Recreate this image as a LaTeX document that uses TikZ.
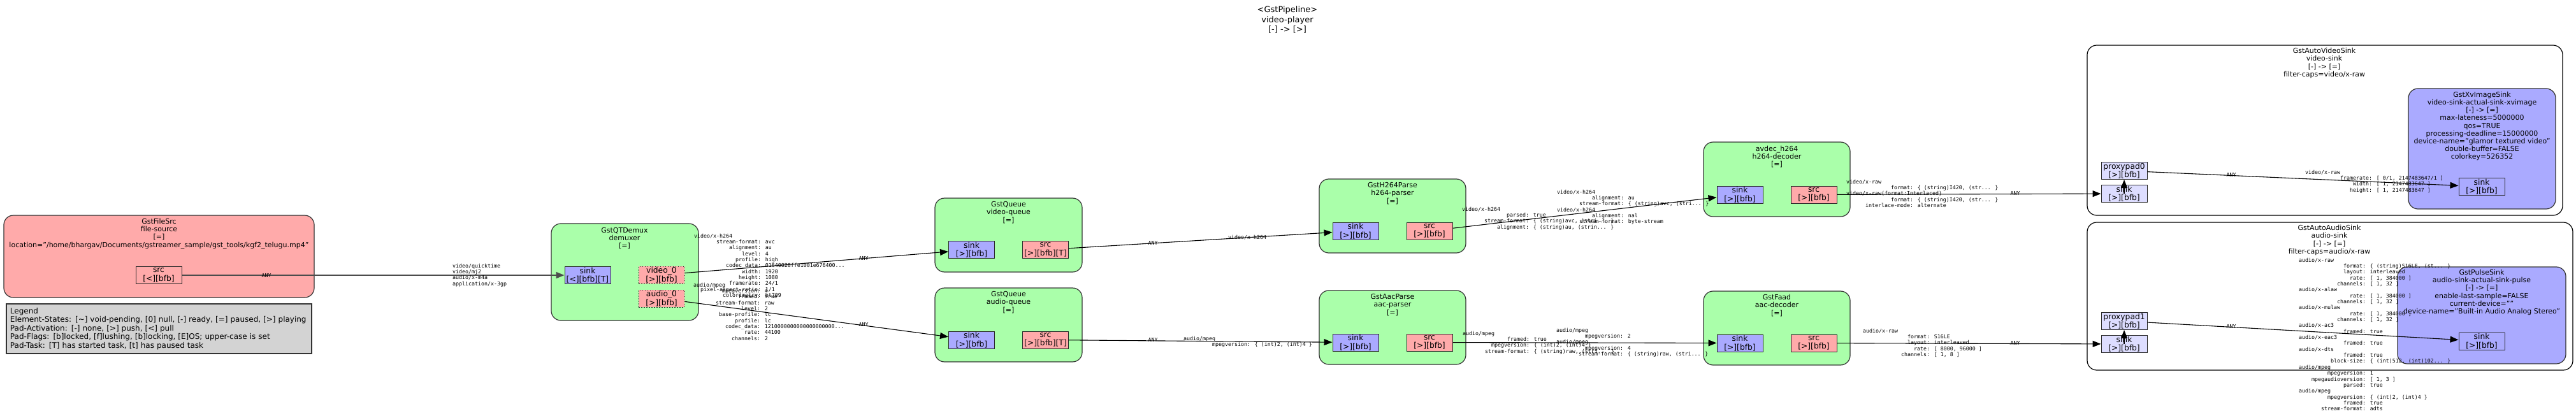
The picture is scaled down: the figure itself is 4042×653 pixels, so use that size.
\documentclass[tikz,border=0pt]{standalone}
\usepackage{fontspec}
\setmainfont{DejaVu Sans}
\newfontfamily\capsf{DejaVu Sans Mono}
\usetikzlibrary{arrows.meta}
\definecolor{elemgreen}{HTML}{AAFFAA}
\definecolor{srcred}{HTML}{FFAAAA}
\definecolor{sinkblue}{HTML}{AAAAFF}
\definecolor{proxyblue}{HTML}{DDDDFF}
\definecolor{legendgray}{HTML}{D3D3D3}
\newlength\capsw
\newcommand\capsfont{\capsf\fontsize{8.3}{9.35}\selectfont}
\newcommand\elemfont{\fontsize{11}{12.2}\selectfont}
\newcommand\padfont{\fontsize{12.3}{13.3}\selectfont}
\newcommand\pipefont{\fontsize{13}{15.5}\selectfont}
\newcommand\legfont{\fontsize{12}{13.5}\selectfont}
\newcommand\cf[2]{\makebox[20\capsw][r]{#1}: #2}
\AtBeginDocument{\settowidth\capsw{\capsfont 0}}
\tikzset{
  elembox/.style={draw=black!80, line width=1.2pt, fill=elemgreen, rounded corners=15pt, inner sep=0pt},
  binbox/.style={draw=black, line width=1.2pt, fill=white, rounded corners=15pt, inner sep=0pt},
  padbox/.style={draw=black!85, line width=1pt, inner sep=0pt, minimum width=72pt, minimum height=27pt, font=\padfont, align=center},
  sinkpad/.style={padbox, fill=sinkblue},
  srcpad/.style={padbox, fill=srcred},
  sometimespad/.style={padbox, fill=srcred, dash pattern=on 1.5pt off 2.5pt},
  proxypad/.style={padbox, fill=proxyblue},
  elemtitle/.style={font=\elemfont, align=center, inner sep=0pt},
  capslbl/.style={font=\capsfont, align=left, anchor=north west, inner sep=0pt},
  anylbl/.style={font=\capsfont, inner sep=0pt},
  linkarrow/.style={line width=1.1pt, -{Triangle[length=13pt,width=10pt]}}
}
\begin{document}
\begin{tikzpicture}[x=1pt,y=-1pt]
\useasboundingbox (0,0) rectangle (4042,653);

% pipeline title
\node[font=\pipefont, align=center, inner sep=0pt] (pipetitle) at (2020,31) {<GstPipeline>\\video-player\\{}[-] -> [>]};

% file source
\node[elembox, fill=srcred, minimum width=487pt, minimum height=129pt] (filesrc) at (249.5,402.5) {};
\node[elemtitle] (filesrctitle) at (249.5,367) {GstFileSrc\\file-source\\{}[=]\\location="/home/bhargav/Documents/gstreamer\_sample/gst\_tools/kgf2\_telugu.mp4"};
\node[srcpad] (fssrc) at (249,432) {src\\{}[<][bfb]};

% legend
\node[draw=black!80, line width=1.2pt, fill=legendgray, minimum width=479pt, minimum height=78pt, inner xsep=6pt, text width=467pt, align=left, font=\legfont] (legend) at (249.5,516) {Legend\\Element-States: [\textasciitilde] void-pending, [0] null, [-] ready, [=] paused, [>] playing\\Pad-Activation: [-] none, [>] push, [<] pull\\Pad-Flags: [b]locked, [f]lushing, [b]locking, [E]OS; upper-case is set\\Pad-Task: [T] has started task, [t] has paused task};

% demuxer
\node[elembox, minimum width=231pt, minimum height=152pt] (demux) at (980.5,427) {};
\node[elemtitle] (demuxtitle) at (980,374) {GstQTDemux\\demuxer\\{}[=]};
\node[sinkpad] (dmsink) at (922,432) {sink\\{}[<][bfb][T]};
\node[sometimespad] (dmvideo) at (1038,431.5) {video\_0\\{}[>][bfb]};
\node[sometimespad] (dmaudio) at (1038,468.5) {audio\_0\\{}[>][bfb]};

% queues
\node[elembox, minimum width=231pt, minimum height=116pt] (vqueue) at (1582.5,369) {};
\node[elemtitle] (vqueuetitle) at (1582.5,333.5) {GstQueue\\video-queue\\{}[=]};
\node[sinkpad] (vqsink) at (1524.5,392) {sink\\{}[>][bfb]};
\node[srcpad] (vqsrc) at (1640.5,392) {src\\{}[>][bfb][T]};

\node[elembox, minimum width=231pt, minimum height=116pt] (aqueue) at (1582.5,510) {};
\node[elemtitle] (aqueuetitle) at (1582.5,474.5) {GstQueue\\audio-queue\\{}[=]};
\node[sinkpad] (aqsink) at (1524.5,533.5) {sink\\{}[>][bfb]};
\node[srcpad] (aqsrc) at (1640.5,533.5) {src\\{}[>][bfb][T]};

% parsers
\node[elembox, minimum width=230pt, minimum height=116pt] (hparse) at (2185,339) {};
\node[elemtitle] (hparsetitle) at (2185,303.5) {GstH264Parse\\h264-parser\\{}[=]};
\node[sinkpad] (hpsink) at (2127,362.5) {sink\\{}[>][bfb]};
\node[srcpad] (hpsrc) at (2243,362.5) {src\\{}[>][bfb]};

\node[elembox, minimum width=230pt, minimum height=116pt] (aparse) at (2185,514) {};
\node[elemtitle] (aparsetitle) at (2185,478.5) {GstAacParse\\aac-parser\\{}[=]};
\node[sinkpad] (apsink) at (2127,537.5) {sink\\{}[>][bfb]};
\node[srcpad] (apsrc) at (2243,537.5) {src\\{}[>][bfb]};

% decoders
\node[elembox, minimum width=230pt, minimum height=117pt] (hdec) at (2788,281.5) {};
\node[elemtitle] (hdectitle) at (2788,246) {avdec\_h264\\h264-decoder\\{}[=]};
\node[sinkpad] (hdsink) at (2730,305.5) {sink\\{}[>][bfb]};
\node[srcpad] (hdsrc) at (2846,305.5) {src\\{}[>][bfb]};

\node[elembox, minimum width=230pt, minimum height=116pt] (adec) at (2788,515) {};
\node[elemtitle] (adectitle) at (2788,479.5) {GstFaad\\aac-decoder\\{}[=]};
\node[sinkpad] (adsink) at (2730,538.5) {sink\\{}[>][bfb]};
\node[srcpad] (adsrc) at (2846,538.5) {src\\{}[>][bfb]};

% video sink bin
\node[binbox, minimum width=746pt, minimum height=267pt] (vsinkbin) at (3648,204.5) {};
\node[elemtitle] (vsinktitle) at (3647,99) {GstAutoVideoSink\\video-sink\\{}[-] -> [=]\\filter-caps=video/x-raw};
\node[proxypad] (vprox) at (3333,268) {proxypad0\\{}[>][bfb]};
\node[proxypad] (vgsink) at (3333,304) {sink\\{}[>][bfb]};
\node[elembox, fill=sinkblue, minimum width=231pt, minimum height=189pt] (xvsink) at (3894.5,233.5) {};
\node[elemtitle] (xvtitle) at (3894.5,198) {GstXvImageSink\\video-sink-actual-sink-xvimage\\{}[-] -> [=]\\max-lateness=5000000\\qos=TRUE\\processing-deadline=15000000\\device-name="glamor textured video"\\double-buffer=FALSE\\colorkey=526352};
\node[sinkpad] (xvpad) at (3894,293) {sink\\{}[>][bfb]};

% audio sink bin
\node[binbox, minimum width=762pt, minimum height=232pt] (asinkbin) at (3656,465) {};
\node[elemtitle] (asinktitle) at (3655,377) {GstAutoAudioSink\\audio-sink\\{}[-] -> [=]\\filter-caps=audio/x-raw};
\node[proxypad] (aprox) at (3333,504) {proxypad1\\{}[>][bfb]};
\node[proxypad] (agsink) at (3333,540) {sink\\{}[>][bfb]};
\node[elembox, fill=sinkblue, minimum width=264pt, minimum height=152pt] (pulse) at (3894,495) {};
\node[elemtitle] (pulsetitle) at (3894,459) {GstPulseSink\\audio-sink-actual-sink-pulse\\{}[-] -> [=]\\enable-last-sample=FALSE\\current-device=""\\device-name="Built-in Audio Analog Stereo"};
\node[sinkpad] (pulsepad) at (3894,535.5) {sink\\{}[>][bfb]};

% links
\draw[linkarrow, draw=black!70, line width=2pt] (fssrc) -- (dmsink);
\draw[linkarrow] (dmvideo) -- (vqsink);
\draw[linkarrow] (dmaudio) -- (aqsink);
\draw[linkarrow] (vqsrc) -- (hpsink);
\draw[linkarrow] (aqsrc) -- (apsink);
\draw[linkarrow] (hpsrc) -- (hdsink);
\draw[linkarrow] (apsrc) -- (adsink);
\draw[linkarrow] (hdsrc) -- (vgsink);
\draw[linkarrow] (adsrc) -- (agsink);
\draw[linkarrow] (vgsink.center) -- (vprox.south);
\draw[linkarrow] (vprox) -- (xvpad);
\draw[linkarrow] (agsink.center) -- (aprox.south);
\draw[linkarrow] (aprox) -- (pulsepad);

% link labels
\node[anylbl] (any1) at (418,432) {ANY};
\node[capslbl] (caps1) at (710,413.5) {video/quicktime\\video/mj2\\audio/x-m4a\\application/x-3gp};

\node[capslbl] (caps2) at (1089,366.5) {video/x-h264\\
\cf{stream-format}{avc}\\
\cf{alignment}{au}\\
\cf{level}{4}\\
\cf{profile}{high}\\
\cf{codec\_data}{01640028ffe1001e676400...}\\
\cf{width}{1920}\\
\cf{height}{1080}\\
\cf{framerate}{24/1}\\
\cf{pixel-aspect-ratio}{1/1}\\
\cf{colorimetry}{bt709}};
\node[anylbl] (any2) at (1355,405) {ANY};

\node[capslbl] (caps3) at (1088,443.5) {audio/mpeg\\
\cf{mpegversion}{4}\\
\cf{framed}{true}\\
\cf{stream-format}{raw}\\
\cf{level}{2}\\
\cf{base-profile}{lc}\\
\cf{profile}{lc}\\
\cf{codec\_data}{1210000000000000000000...}\\
\cf{rate}{44100}\\
\cf{channels}{2}};
\node[anylbl] (any3) at (1355,509) {ANY};

\node[anylbl] (any4) at (1809,381) {ANY};
\node[capslbl] (caps4) at (1927,368.5) {video/x-h264};
\node[anylbl] (any5) at (1809,533) {ANY};
\node[capslbl] (caps5) at (1857,527.5) {audio/mpeg\\
\cf{mpegversion}{\{ (int)2, (int)4 \}}};

\node[capslbl] (caps6) at (2294,324.5) {video/x-h264\\
\cf{parsed}{true}\\
\cf{stream-format}{\{ (string)avc, (stri... \}}\\
\cf{alignment}{\{ (string)au, (strin... \}}};
\node[capslbl] (caps7) at (2443,297.5) {video/x-h264\\
\cf{alignment}{au}\\
\cf{stream-format}{\{ (string)avc, (stri... \}}\\
video/x-h264\\
\cf{alignment}{nal}\\
\cf{stream-format}{byte-stream}};

\node[capslbl] (caps8) at (2295,519.5) {audio/mpeg\\
\cf{framed}{true}\\
\cf{mpegversion}{\{ (int)2, (int)4 \}}\\
\cf{stream-format}{\{ (string)raw, (stri... \}}};
\node[capslbl] (caps9) at (2442,514.5) {audio/mpeg\\
\cf{mpegversion}{2}\\
audio/mpeg\\
\cf{mpegversion}{4}\\
\cf{stream-format}{\{ (string)raw, (stri... \}}};

\node[capslbl] (caps10) at (2897,281.5) {video/x-raw\\
\cf{format}{\{ (string)I420, (str... \}}\\
video/x-raw(format:Interlaced)\\
\cf{format}{\{ (string)I420, (str... \}}\\
\cf{interlace-mode}{alternate}};
\node[anylbl] (any6) at (3162,303) {ANY};

\node[capslbl] (caps11) at (2923,515.5) {audio/x-raw\\
\cf{format}{S16LE}\\
\cf{layout}{interleaved}\\
\cf{rate}{[ 8000, 96000 ]}\\
\cf{channels}{[ 1, 8 ]}};
\node[anylbl] (any7) at (3162,538) {ANY};

\node[anylbl] (any8) at (3501,274) {ANY};
\node[capslbl] (caps12) at (3617,266.5) {video/x-raw\\
\cf{framerate}{[ 0/1, 2147483647/1 ]}\\
\cf{width}{[ 1, 2147483647 ]}\\
\cf{height}{[ 1, 2147483647 ]}};

\node[anylbl] (any9) at (3501,512) {ANY};
\node[capslbl] (caps13) at (3607,404.5) {audio/x-raw\\
\cf{format}{\{ (string)S16LE, (st... \}}\\
\cf{layout}{interleaved}\\
\cf{rate}{[ 1, 384000 ]}\\
\cf{channels}{[ 1, 32 ]}\\
audio/x-alaw\\
\cf{rate}{[ 1, 384000 ]}\\
\cf{channels}{[ 1, 32 ]}\\
audio/x-mulaw\\
\cf{rate}{[ 1, 384000 ]}\\
\cf{channels}{[ 1, 32 ]}\\
audio/x-ac3\\
\cf{framed}{true}\\
audio/x-eac3\\
\cf{framed}{true}\\
audio/x-dts\\
\cf{framed}{true}\\
\cf{block-size}{\{ (int)512, (int)102... \}}\\
audio/mpeg\\
\cf{mpegversion}{1}\\
\cf{mpegaudioversion}{[ 1, 3 ]}\\
\cf{parsed}{true}\\
audio/mpeg\\
\cf{mpegversion}{\{ (int)2, (int)4 \}}\\
\cf{framed}{true}\\
\cf{stream-format}{adts}};
\end{tikzpicture}
\end{document}
